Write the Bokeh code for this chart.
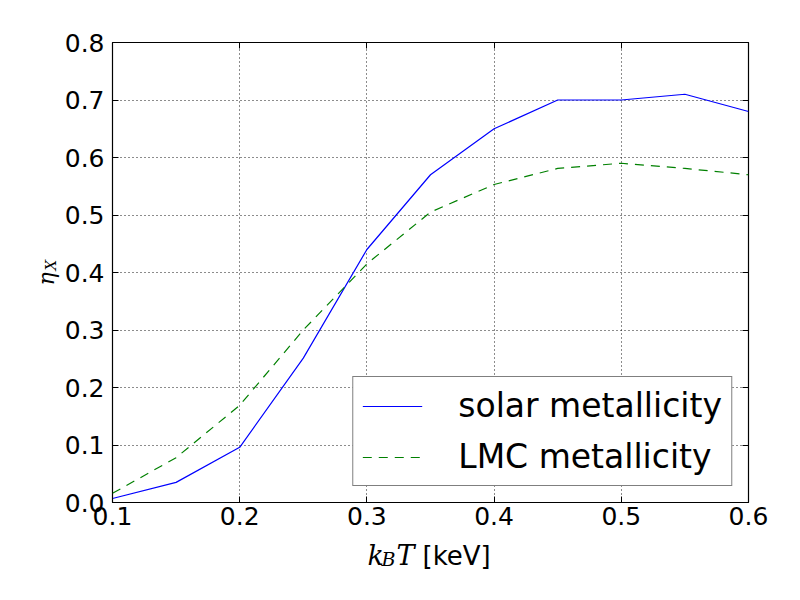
import math
from bokeh.plotting import figure
from bokeh.layouts import column
from bokeh.models import (Range1d, FixedTicker, PrintfTickFormatter, LinearAxis,
                          Label, Legend, LegendItem)
from bokeh.embed import file_html
from bokeh.resources import INLINE

# ---- data ----
kT = [0.10, 0.15, 0.20, 0.25, 0.30, 0.35, 0.40, 0.45, 0.50, 0.55, 0.60]
eta_solar = [0.007, 0.035, 0.096, 0.251, 0.440, 0.570, 0.650, 0.700, 0.700, 0.710, 0.680]
eta_lmc = [0.016, 0.078, 0.169, 0.300, 0.415, 0.505, 0.553, 0.581, 0.590, 0.581, 0.570]
x_ticks = [0.1, 0.2, 0.3, 0.4, 0.5, 0.6]
y_ticks = [0.0, 0.1, 0.2, 0.3, 0.4, 0.5, 0.6, 0.7, 0.8]
series_names = ["solar metallicity", "LMC metallicity"]

X0, X1, Y0, Y1 = 0.1, 0.6, 0.0, 0.8
W = 784
ML, MR, MT, MB = 112, 36, 42, 34
H_MAIN = 536
H_XLAB = 48
FW, FH = W - ML - MR, H_MAIN - MT - MB

p = figure(width=W, height=H_MAIN, output_backend="svg", toolbar_location=None,
           x_range=Range1d(X0, X1), y_range=Range1d(Y0, Y1),
           min_border_left=ML, min_border_right=MR, min_border_top=MT,
           min_border_bottom=MB, x_axis_location=None, y_axis_location=None)
p.background_fill_color = "white"
p.border_fill_color = "white"
p.outline_line_color = "black"
p.outline_line_width = 1.2

fmt = PrintfTickFormatter(format="%.1f")

def make_axis(ticks, show_labels):
    ax = LinearAxis(ticker=FixedTicker(ticks=ticks), formatter=fmt)
    ax.axis_line_color = None
    ax.major_tick_in = 6
    ax.major_tick_out = 0
    ax.major_tick_line_color = "black"
    ax.minor_tick_line_color = None
    ax.major_label_text_font = "DejaVu Sans"
    ax.major_label_text_color = "black"
    if show_labels:
        ax.major_label_text_font_size = "25px"
    else:
        ax.major_label_text_font_size = "0px"
        ax.major_label_text_alpha = 0
    return ax

bx = make_axis(x_ticks, True)
bx.major_label_standoff = 4
p.add_layout(bx, "below")
lx = make_axis(y_ticks, True)
lx.major_label_standoff = 8
p.add_layout(lx, "left")
p.add_layout(make_axis(x_ticks, False), "above")
p.add_layout(make_axis(y_ticks, False), "right")

p.xgrid.ticker = FixedTicker(ticks=x_ticks)
p.ygrid.ticker = FixedTicker(ticks=y_ticks)
for g in (p.xgrid, p.ygrid):
    g.grid_line_color = "black"
    g.grid_line_dash = "1 3"
    g.grid_line_alpha = 0.9

r1 = p.line(kT, eta_solar, line_color="#0000ff", line_width=1.2)
r2 = p.line(kT, eta_lmc, line_color="#008000", line_width=1.2, line_dash="9 7")

legend = Legend(items=[LegendItem(label=series_names[0], renderers=[r1]),
                       LegendItem(label=series_names[1], renderers=[r2])],
                location="bottom_right")
legend.label_text_font = "DejaVu Sans"
legend.label_text_font_size = "33px"
legend.label_text_color = "black"
legend.border_line_color = "black"
legend.border_line_width = 1.2
legend.background_fill_alpha = 1.0
legend.padding = 9
legend.margin = 16
legend.glyph_width = 60
legend.glyph_height = 30
legend.label_height = 30
legend.label_standoff = 36
legend.spacing = 12
p.add_layout(legend, "center")

# y-axis label: eta_X (rotated), in the left side panel
def ylab(text, sx, sy, size):
    p.add_layout(Label(x=X0 + sx * (X1 - X0) / FW, y=Y0 + sy * (Y1 - Y0) / FH,
                       x_units="data", y_units="data", text=text,
                       text_font="DejaVu Serif", text_font_style="italic",
                       text_font_size=size, text_color="black",
                       text_baseline="alphabetic", text_align="left",
                       angle=math.pi / 2), "left")

ylab("η", -66, 217, "22px")
ylab("X", -62, 232, "15px")

# x-axis label: k_B T [keV], drawn in a strip below the chart
q = figure(width=W, height=H_XLAB, output_backend="svg", toolbar_location=None,
           x_range=p.x_range, y_range=Range1d(0, 1),
           min_border_left=ML, min_border_right=MR, min_border_top=0,
           min_border_bottom=0, x_axis_location=None, y_axis_location=None)
q.outline_line_color = None
q.background_fill_color = "white"
q.border_fill_color = "white"
q.xgrid.visible = False
q.ygrid.visible = False

def xlab(text, sx, sy, size, font="DejaVu Serif", style="italic"):
    q.add_layout(Label(x=sx, y=sy, x_units="screen", y_units="screen", text=text,
                       text_font=font, text_font_style=style,
                       text_font_size=size, text_color="black",
                       text_baseline="alphabetic", text_align="left"))

xlab("k", 255, 29, "27px")
xlab("B", 269, 26, "19px")
xlab("T", 284, 29, "27px")
xlab("[keV]", 310, 29, "26px", font="DejaVu Sans", style="normal")

layout = column(p, q, spacing=0)
open("out.html", "w").write(file_html(layout, INLINE))
